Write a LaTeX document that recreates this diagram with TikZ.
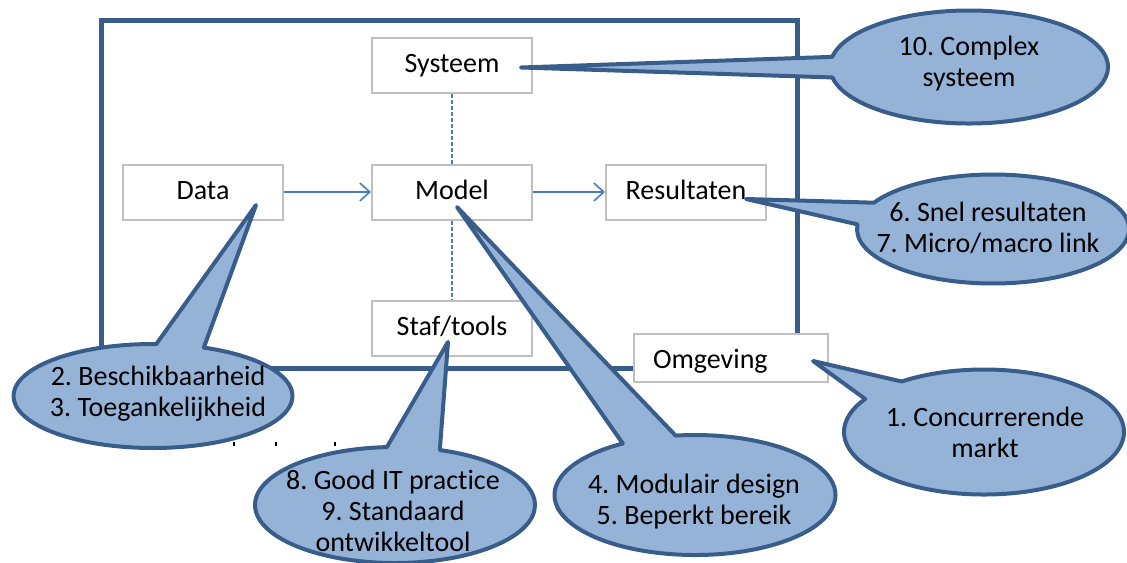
\documentclass[tikz,border=0pt]{standalone}
\usepackage{fontspec}
\setmainfont{Carlito}[Ligatures={NoCommon,NoRare}]
\frenchspacing
\usetikzlibrary{shapes.callouts,arrows.meta}

\definecolor{framecol}{RGB}{56,93,138}
\definecolor{bubblecol}{RGB}{149,179,215}
\definecolor{boxcol}{RGB}{191,191,191}
\definecolor{linkcol}{RGB}{74,126,187}

\tikzset{
  block/.style={draw=boxcol, line width=1pt, fill=white, minimum width=80pt,
    minimum height=27.5pt, text height=10pt, text depth=3pt, inner sep=0pt},
  bubble/.style={ellipse callout, draw=framecol, fill=bubblecol, line width=2pt,
    line join=round, inner sep=0pt, callout pointer arc=22},
  bubbletext/.style={align=center},
  flow/.style={draw=linkcol, line width=0.8pt, -{Straight Barb[length=5pt,width=9pt]}},
  link/.style={draw=linkcol, line width=1pt, dash pattern=on 2pt off 1pt},
}

\begin{document}
\begin{tikzpicture}[x=0.5pt, y=-0.5pt, every node/.style={font=\fontsize{14}{15.5}\selectfont}]
  \useasboundingbox (0,0) rectangle (1127,562);

  % Outer frame
  \draw[framecol, line width=2.5pt] (101,20) rectangle (797,368);

  % Blocks
  \node[block] (sys) at (452,65.5) {Systeem};
  \node[block] (data) at (203,192) {Data};
  \node[block] (model) at (452,192) {Model};
  \node[block] (res) at (686,192) {Resultaten};
  \node[block] (staf) at (452,328.5) {Staf/tools};
  \node[block, minimum width=97pt, minimum height=24pt, text width=78pt,
    inner xsep=9.5pt, align=left, text height=13pt] (omg) at (731,358) {Omgeving};

  % Flows
  \draw[flow] (data) -- (model);
  \draw[flow] (model) -- (res);
  \draw[link] (sys) -- (model);
  \draw[link] (model) -- (staf);

  % Pointer tips
  \coordinate (sys-tip) at ([shift={(-6pt,-1pt)}]sys.east);
  \coordinate (res-tip) at ([shift={(-10.5pt,-3.5pt)}]res.east);
  \coordinate (data-tip) at ([shift={(26.5pt,-6.5pt)}]data.center);
  \coordinate (model-tip) at ([shift={(2.5pt,-7.5pt)}]model.center);
  \coordinate (staf-tip) at ([shift={(-2pt,-6.75pt)}]staf.center);
  \coordinate (omg-tip) at ([shift={(-8pt,-1.5pt)}]omg.east);

  % Callouts
  \node[bubble, minimum width=139pt, minimum height=56.5pt, callout pointer arc=21,
    callout absolute pointer={(sys-tip)}] (c10) at (969,67) {};
  \node[bubble, minimum width=136pt, minimum height=54.5pt, callout pointer arc=24,
    callout absolute pointer={(res-tip)}] (c67) at (993,229) {};
  \node[bubble, minimum width=139.5pt, minimum height=52pt, callout pointer arc=20,
    callout absolute pointer={(data-tip)}] (c23) at (153,396) {};
  \node[bubble, minimum width=140pt, minimum height=58pt,
    callout absolute pointer={(staf-tip)}] (c89) at (395,505) {};
  \node[bubble, minimum width=140.5pt, minimum height=60pt, callout pointer arc=23,
    callout absolute pointer={(model-tip)}] (c45) at (695,495) {};
  \node[bubble, minimum width=140pt, minimum height=62.5pt,
    callout absolute pointer={(omg-tip)}] (c1) at (984,432) {};

  \node[bubbletext] (t10) at (969,64) {10. Complex\\systeem};
  \node[bubbletext] (t67) at (988,228) {6. Snel resultaten\\7. Micro/macro link};
  \node[bubbletext] (t23) at (158,394) {2. Beschikbaarheid\\3. Toegankelijkheid};
  \node[bubbletext] (t89) at (393,511) {8. Good IT practice\\9. Standaard\\ontwikkeltool};
  \node[bubbletext] (t45) at (694,502) {4. Modulair design\\5. Beperkt bereik};
  \node[bubbletext] (t1) at (985,432) {1. Concurrerende\\markt};

  % stray marks
  \foreach \x in {233,275,334}
    \fill (\x,442) rectangle ++(1.5,4);
\end{tikzpicture}
\end{document}
